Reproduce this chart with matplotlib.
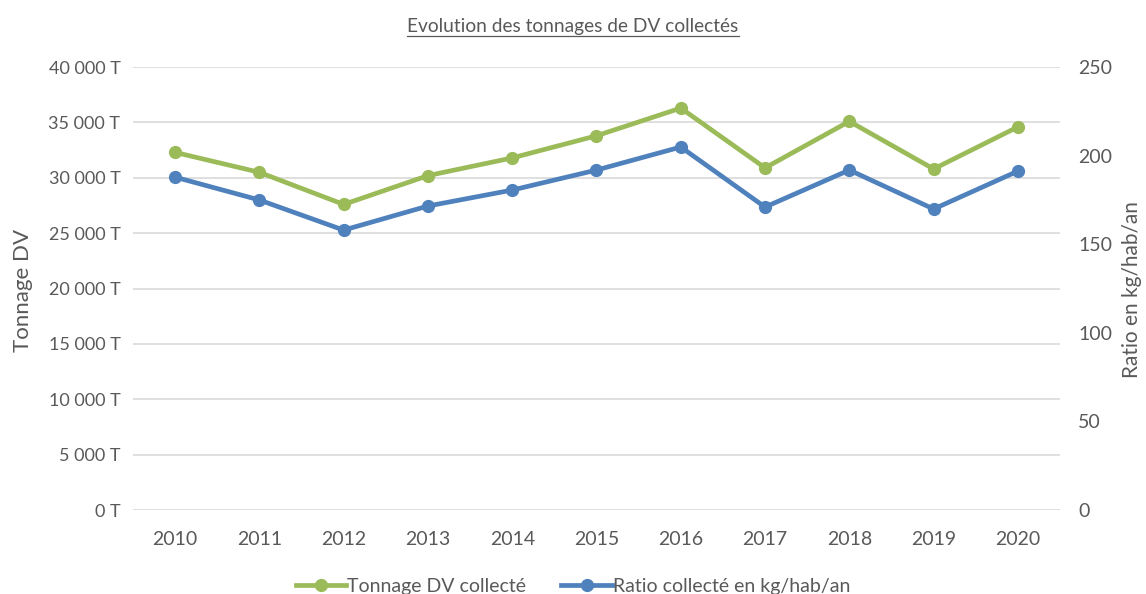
import numpy as np
import matplotlib.pyplot as plt
from matplotlib.lines import Line2D

# ============================================================
# DATA
# ============================================================
years = ['2010', '2011', '2012', '2013', '2014', '2015',
         '2016', '2017', '2018', '2019', '2020']
tonnage = [32300, 30500, 27600, 30200, 31800, 33800,
           36300, 30900, 35100, 30800, 34600]           # T
ratio = [187.9, 175.0, 158.0, 171.6, 180.6, 191.9,
         204.9, 171.0, 191.9, 169.9, 191.3]             # kg/hab/an

GREEN = '#9BBB59'
BLUE = '#4F81BD'
GREY = '#595959'

plt.rcParams['font.family'] = ['Lato', 'DejaVu Sans']

fig = plt.figure(figsize=(11.46, 5.94), dpi=100)
ax = fig.add_axes([0.116, 0.1414, 0.809, 0.7456])
ax2 = ax.twinx()

x = np.arange(len(years))
l1, = ax.plot(x, tonnage, color=GREEN, lw=3.4, marker='o', ms=8.5,
              label='Tonnage DV collecté', zorder=3)
l2, = ax2.plot(x, ratio, color=BLUE, lw=3.4, marker='o', ms=8.5,
               label='Ratio collecté en kg/hab/an', zorder=3)

ax.set_xlim(-0.5, len(years) - 0.5)
ax.set_ylim(0, 40000)
ax2.set_ylim(0, 250)
ax.set_yticks(np.arange(0, 40001, 5000))
ax.set_yticklabels([f'{v:,} T'.replace(',', ' ') for v in range(0, 40001, 5000)])
ax2.set_yticks(np.arange(0, 251, 50))
ax.set_xticks(x)
ax.set_xticklabels(years)

ax.grid(axis='y', color='#D9D9D9', lw=1.2)
ax.set_axisbelow(True)
for a in (ax, ax2):
    for s in a.spines.values():
        s.set_visible(False)
    a.tick_params(length=0, labelsize=13, colors=GREY)
ax.tick_params(axis='x', labelsize=14, pad=15)
ax.tick_params(axis='y', pad=9)
ax2.tick_params(axis='y', labelsize=14, pad=13)

fig.text(23 / 1146, 1 - 290 / 594, 'Tonnage DV', rotation=90, ha='center',
         va='center', fontsize=16, color=GREY)
fig.text(1132 / 1146, 1 - 290 / 594, 'Ratio en kg/hab/an', rotation=90,
         ha='center', va='center', fontsize=15, color=GREY)

# underlined title
title = fig.text(0.5, 0.955, 'Evolution des tonnages de DV collectés',
                 ha='center', va='center', fontsize=13.8, color=GREY)
fig.canvas.draw()
bb = title.get_window_extent().transformed(fig.transFigure.inverted())
fig.add_artist(Line2D([bb.x0, bb.x1], [bb.y0 - 0.002, bb.y0 - 0.002],
                      transform=fig.transFigure, color=GREY, lw=0.9))

fig.legend(handles=[l1, l2], loc='center', bbox_to_anchor=(0.5, 0.013),
           ncol=2, frameon=False, fontsize=14, handlelength=2.6,
           columnspacing=1.8, handletextpad=0.05, labelcolor=GREY)

fig.savefig('out.png', dpi=100)
